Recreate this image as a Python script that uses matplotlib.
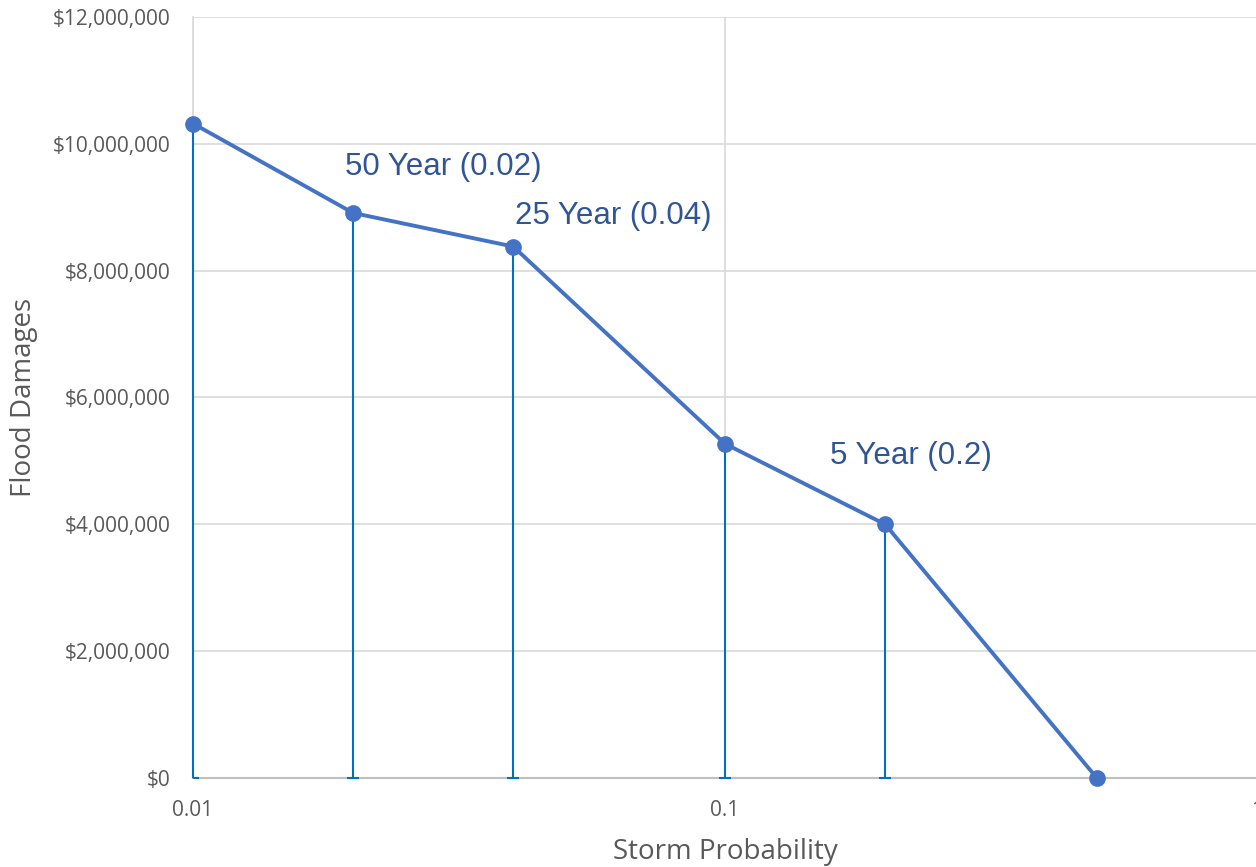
import matplotlib
matplotlib.use("Agg")
import matplotlib.pyplot as plt
from matplotlib.ticker import FuncFormatter, FixedLocator, NullLocator

# Data
probabilities = [0.01, 0.02, 0.04, 0.1, 0.2, 0.5]
damages = [10320000, 8910000, 8380000, 5270000, 4000000, 0]
labels = {1: "50 Year (0.02)", 2: "25 Year (0.04)", 4: "5 Year (0.2)"}
y_ticks = [0, 2000000, 4000000, 6000000, 8000000, 10000000, 12000000]
x_ticks = [0.01, 0.1, 1]
x_tick_labels = ["0.01", "0.1", "1"]

W, H = 1256, 867
fig = plt.figure(figsize=(W / 100, H / 100), dpi=100)
ax = fig.add_axes([193 / W, 1 - 778 / H, (1257 - 193) / W, (778 - 17) / H])

ax.set_xscale("log")
ax.set_xlim(0.01, 1)
ax.set_ylim(0, 12000000)

tick_font = "Open Sans"
grid_c = "#D9D9D9"

ax.xaxis.set_major_locator(FixedLocator(x_ticks))
ax.xaxis.set_minor_locator(NullLocator())
ax.set_xticklabels(x_tick_labels)
ax.set_yticks(y_ticks)
ax.yaxis.set_major_formatter(FuncFormatter(lambda v, p: "${:,.0f}".format(v)))

ax.grid(True, color=grid_c, linewidth=1.2, zorder=0)
ax.set_axisbelow(True)
for s in ["top", "right"]:
    ax.spines[s].set_visible(False)
ax.spines["left"].set_color(grid_c)
ax.spines["left"].set_linewidth(1.2)
ax.spines["bottom"].set_color("#BFBFBF")
ax.spines["bottom"].set_linewidth(1.5)
ax.tick_params(length=0, colors="#595959", labelsize=15)
ax.tick_params(axis="x", pad=16)
ax.tick_params(axis="y", pad=16)
for t in ax.get_xticklabels() + ax.get_yticklabels():
    t.set_fontfamily(tick_font)

# drop lines (error bars to zero)
eb = ax.errorbar(probabilities, damages, yerr=[damages, [0] * len(damages)], fmt="none",
                 ecolor="#0070C0", elinewidth=1.5, capsize=4.3, capthick=1.5, zorder=4)
for coll in eb[2]:
    coll.set_clip_on(False)

ax.plot(probabilities, damages, color="#4472C4", linewidth=2.8, marker="o",
        markersize=11, zorder=5, clip_on=False)

offsets = {1: (-8, 46), 2: (2, 31), 4: (-55, 68)}
for i, txt in labels.items():
    ax.annotate(txt, (probabilities[i], damages[i]), xytext=offsets[i],
                textcoords="offset pixels", fontsize=22.5, color="#2F5597",
                family="Liberation Sans", ha="left", va="center")

ax.set_ylabel("Flood Damages", fontsize=20, color="#595959", family=tick_font)
ax.set_xlabel("Storm Probability", fontsize=20, color="#595959", family=tick_font)
ax.yaxis.set_label_coords((24 - 193) / 1064, 0.5)
ax.xaxis.set_label_coords(0.5, (778 - 852) / 761)
ax.yaxis.label.set_va("center")
ax.xaxis.label.set_va("center")

fig.savefig("out.png", dpi=100)
